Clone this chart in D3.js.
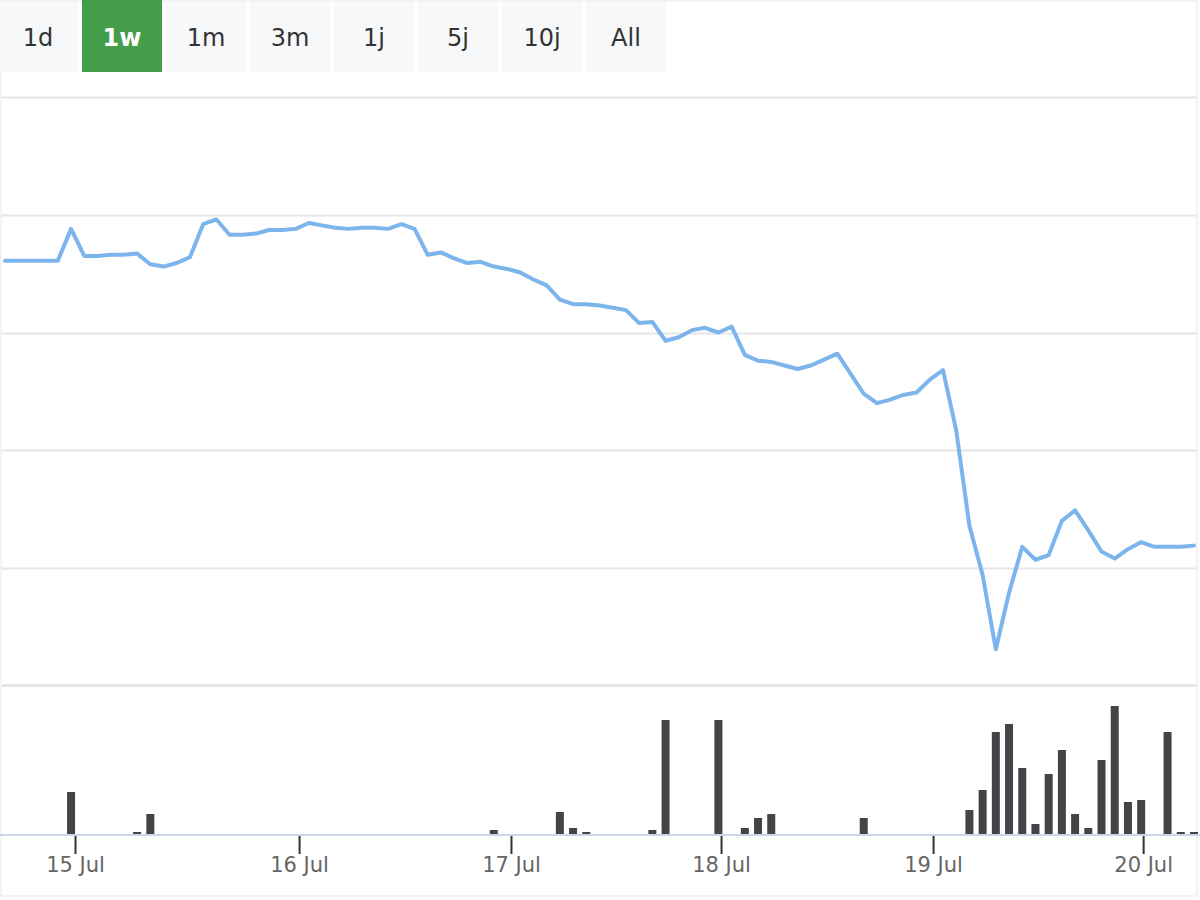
<!DOCTYPE html>
<html>
<head>
<meta charset="utf-8">
<script src="https://cdn.jsdelivr.net/npm/d3@7"></script>
<style>
  body { margin: 0; background: #fff; }
  svg { display: block; font-family: "DejaVu Sans", sans-serif; }
</style>
</head>
<body>
<script>
// range selector buttons
const ranges = ["1d", "1w", "1m", "3m", "1j", "5j", "10j", "All"];
const selectedRange = "1w";

// price series, one point per step (about every 90 minutes)
const prices = [
  23.61, 23.61, 23.61, 23.61, 23.61, 23.88, 23.65, 23.65, 23.66, 23.66,
  23.67, 23.58, 23.56, 23.59, 23.64, 23.92, 23.96, 23.83, 23.83, 23.84,
  23.87, 23.87, 23.88, 23.93, 23.91, 23.89, 23.88, 23.89, 23.89, 23.88,
  23.92, 23.88, 23.66, 23.68, 23.63, 23.59, 23.60, 23.56, 23.54, 23.51,
  23.45, 23.40, 23.28, 23.24, 23.24, 23.23, 23.21, 23.19, 23.08, 23.09,
  22.93, 22.96, 23.02, 23.04, 23.00, 23.05, 22.81, 22.76, 22.75, 22.72,
  22.69, 22.72, 22.77, 22.82, 22.65, 22.48, 22.40, 22.43, 22.47, 22.49,
  22.60, 22.68, 22.17, 21.36, 20.94, 20.31, 20.79, 21.18, 21.07, 21.11,
  21.40, 21.49, 21.32, 21.14, 21.08, 21.16, 21.22, 21.18, 21.18, 21.18,
  21.19
];

// volume, only the steps that traded
const volumeIndex = [5, 10, 11, 37, 42, 43, 44, 49, 50, 54, 56, 57, 58, 65,
  73, 74, 75, 76, 77, 78, 79, 80, 81, 82, 83, 84, 85, 86, 88, 89, 90];
const volumeValues = [42, 2, 20, 4, 22, 6, 2, 4, 114, 114, 6, 16, 20, 16,
  24, 44, 102, 110, 66, 10, 60, 84, 20, 6, 74, 128, 32, 34, 102, 2, 2];

// day ticks, at their position on the step axis
const tickLabels = ["15 Jul", "16 Jul", "17 Jul", "18 Jul", "19 Jul", "20 Jul"];
const tickIndex = [5.3, 22.26, 38.3, 54.2, 70.25, 86.15];

const priceGrid = [21, 22, 23, 24, 25];

const W = 1200, H = 900;

const svg = d3.select("body").append("svg")
  .attr("width", W)
  .attr("height", H);

// faint outer frame
svg.append("rect")
  .attr("x", 1).attr("y", 1)
  .attr("width", 1196).attr("height", 895)
  .attr("fill", "none")
  .attr("stroke", "#f3f3f3")
  .attr("stroke-width", 2);

// buttons
const bx = d3.scaleBand()
  .domain(ranges)
  .range([-2, 666])
  .paddingInner(4 / 84);

const btn = svg.selectAll(".btn")
  .data(ranges)
  .enter()
  .append("g")
  .attr("class", "btn");

btn.append("rect")
  .attr("x", d => bx(d))
  .attr("y", d => d == selectedRange ? 0 : 2)
  .attr("width", bx.bandwidth())
  .attr("height", d => d == selectedRange ? 72 : 70)
  .attr("fill", d => d == selectedRange ? "#449d48" : "#f7f8fa");

btn.append("text")
  .attr("x", d => bx(d) + bx.bandwidth() / 2)
  .attr("y", 46)
  .attr("text-anchor", "middle")
  .style("font-size", "24px")
  .style("font-weight", d => d == selectedRange ? "bold" : "normal")
  .attr("fill", d => d == selectedRange ? "#ffffff" : "#333333")
  .text(d => d);

// scales
let x = d3.scaleLinear()
  .domain([0, prices.length - 1])
  .range([5, 1194]);

let y = d3.scaleLinear()
  .domain([20, 25])
  .range([685.75, 97]);

let yVol = d3.scaleLinear()
  .domain([0, 140])
  .range([834, 694]);

// gridlines
svg.selectAll(".grid")
  .data(priceGrid)
  .enter()
  .append("line")
  .attr("x1", 2)
  .attr("x2", 1197)
  .attr("y1", d => Math.round(y(d)) + 0.5)
  .attr("y2", d => Math.round(y(d)) + 0.5)
  .attr("stroke", "#e6e6e6")
  .attr("stroke-width", 2);

// pane separator
svg.append("line")
  .attr("x1", 2).attr("x2", 1197)
  .attr("y1", 685.5).attr("y2", 685.5)
  .attr("stroke", "#e6e6e6")
  .attr("stroke-width", 3);

// price line
let line = d3.line()
  .x((d, i) => x(i))
  .y(d => y(d));

svg.append("path")
  .datum(prices)
  .attr("d", line)
  .attr("fill", "none")
  .attr("stroke", "#7cb5ec")
  .attr("stroke-width", 4)
  .attr("stroke-linejoin", "round")
  .attr("stroke-linecap", "round");

// volume bars
svg.selectAll(".bar")
  .data(volumeValues)
  .enter()
  .append("rect")
  .attr("class", "bar")
  .attr("x", (d, i) => x(volumeIndex[i]) - 4)
  .attr("width", 8)
  .attr("y", d => yVol(d))
  .attr("height", d => yVol(0) - yVol(d))
  .attr("fill", "#434348");

// x axis
svg.append("line")
  .attr("x1", 0).attr("x2", 1200)
  .attr("y1", 835).attr("y2", 835)
  .attr("stroke", "#ccd6eb")
  .attr("stroke-width", 2);

let xAxis = svg.append("g")
  .attr("transform", "translate(0, 836)")
  .call(d3.axisBottom(x)
    .tickValues(tickIndex)
    .tickFormat((d, i) => tickLabels[i])
    .tickSize(18));

xAxis.select(".domain").remove();
xAxis.selectAll(".tick line")
  .attr("stroke", "#333333")
  .attr("stroke-width", 2);
xAxis.selectAll(".tick text")
  .attr("y", 36)
  .attr("dy", 0)
  .attr("fill", "#666666")
  .style("font-size", "21px")
  .style("font-family", "DejaVu Sans, sans-serif");
</script>
</body>
</html>
